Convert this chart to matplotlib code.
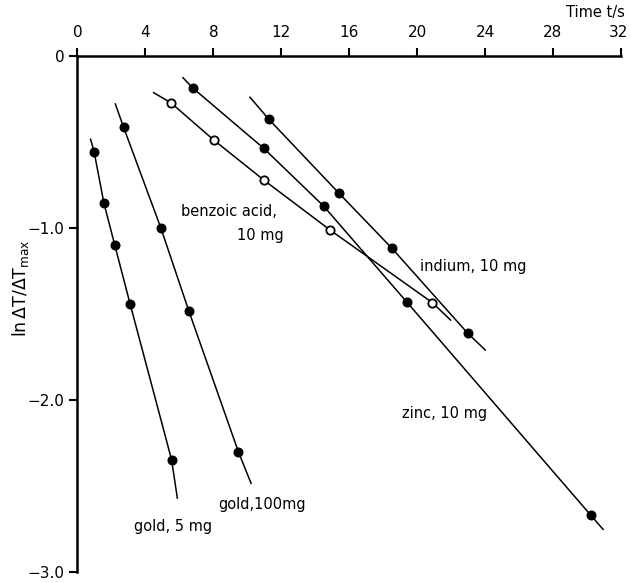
import matplotlib
matplotlib.use('Agg')
import matplotlib.pyplot as plt
from matplotlib.transforms import ScaledTranslation

# measured points, time t/s and ln(dT/dTmax)
gold5_t = [0.98, 1.56, 2.19, 3.10, 5.54]
gold5_v = [-0.56, -0.86, -1.10, -1.445, -2.35]
gold100_t = [2.71, 4.91, 6.56, 9.48]
gold100_v = [-0.416, -1.003, -1.486, -2.305]
benzoic_t = [5.49, 8.02, 10.97, 14.88, 20.90]
benzoic_v = [-0.274, -0.491, -0.724, -1.015, -1.437]
zinc_t = [6.79, 10.97, 14.49, 19.39, 30.22]
zinc_v = [-0.189, -0.540, -0.875, -1.433, -2.672]
indium_t = [11.27, 15.40, 18.50, 22.98]
indium_v = [-0.371, -0.801, -1.119, -1.615]

# where each drawn line starts and ends (beyond the points)
gold5_ends_t = [0.77, 5.88]
gold5_ends_v = [-0.487, -2.573]
gold100_ends_t = [2.23, 10.22]
gold100_ends_v = [-0.282, -2.487]
benzoic_ends_t = [4.48, 21.97]
benzoic_ends_v = [-0.216, -1.538]
zinc_ends_t = [6.21, 30.95]
zinc_ends_v = [-0.129, -2.755]
indium_ends_t = [10.16, 24.01]
indium_ends_v = [-0.243, -1.712]

xticks = [0, 4, 8, 12, 16, 20, 24, 28, 32]
yticks = [0, -1.0, -2.0, -3.0]
ytick_labels = ['0', '\u22121.0', '\u22122.0', '\u22123.0']

fig = plt.figure(figsize=(6.31, 5.83), dpi=100)
ax = fig.add_axes([0.1228, 0.0197, 0.8612, 0.8851])

lw = 1.1
series = [(gold5_t, gold5_v, gold5_ends_t, gold5_ends_v),
          (gold100_t, gold100_v, gold100_ends_t, gold100_ends_v),
          (benzoic_t, benzoic_v, benzoic_ends_t, benzoic_ends_v),
          (zinc_t, zinc_v, zinc_ends_t, zinc_ends_v),
          (indium_t, indium_v, indium_ends_t, indium_ends_v)]
for t, v, et, ev in series:
    # hand-drawn line through the points, extended at both ends
    ax.plot([et[0]] + t + [et[1]], [ev[0]] + v + [ev[1]],
            color='black', lw=lw, zorder=2)

for t, v in [(gold5_t, gold5_v), (gold100_t, gold100_v),
             (zinc_t, zinc_v), (indium_t, indium_v)]:
    ax.plot(t, v, 'o', color='black', ms=6.2, zorder=3)
ax.plot(benzoic_t, benzoic_v, 'o', mfc='white', mec='black', mew=1.3, ms=6, zorder=3)

ax.set_xlim(0, 32)
ax.set_ylim(-3.0, 0)
ax.xaxis.tick_top()
ax.set_xticks(xticks)
ax.set_yticks(yticks)
ax.set_yticklabels(ytick_labels)
ax.tick_params(axis='both', direction='out', length=6, width=1.5, labelsize=11)
ax.tick_params(axis='x', pad=5)
ax.spines['right'].set_visible(False)
ax.spines['bottom'].set_visible(False)
ax.spines['top'].set_linewidth(1.8)
ax.spines['left'].set_linewidth(1.8)

# nudge the last tick label so it stays inside the figure
last = ax.xaxis.get_major_ticks()[-1].label2
last.set_transform(last.get_transform() + ScaledTranslation(-0.02, 0, fig.dpi_scale_trans))

fs = 10.5
ax.text(8.89, -0.908, 'benzoic acid,', fontsize=fs, ha='center', va='center')
ax.text(12.16, -1.044, '10 mg', fontsize=fs, ha='right', va='center')
ax.text(23.29, -1.228, 'indium, 10 mg', fontsize=fs, ha='center', va='center')
ax.text(21.63, -2.084, 'zinc, 10 mg', fontsize=fs, ha='center', va='center')
ax.text(10.87, -2.608, 'gold,100mg', fontsize=fs, ha='center', va='center')
ax.text(5.60, -2.741, 'gold, 5 mg', fontsize=fs, ha='center', va='center')

fig.text(0.99, 0.978, 'Time t/s', fontsize=fs, ha='right', va='center')
fig.text(0.032, 0.505, r'ln$\,\Delta$T/$\Delta$T$_{\rm max}$', fontsize=12.5,
         rotation=90, ha='center', va='center')

fig.savefig('out.png', dpi=100)
